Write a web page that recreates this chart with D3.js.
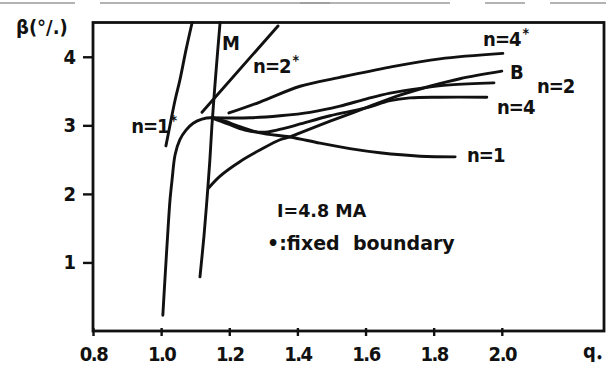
<!DOCTYPE html>
<html>
<head>
<meta charset="utf-8">
<script src="https://cdn.jsdelivr.net/npm/d3@7"></script>
<style>
  html, body { margin: 0; padding: 0; background: #fff; }
  svg { display: block; }
  text { font-family: "DejaVu Sans Condensed", "DejaVu Sans", sans-serif; font-weight: bold; fill: #111; }
</style>
</head>
<body>
<svg id="chart" width="611" height="372"></svg>
<script>
// ====================================================================
// DATA  (q*, beta %)
// ====================================================================
const qTicks = [0.8, 1.0, 1.2, 1.4, 1.6, 1.8, 2.0];
const betaTicks = [1, 2, 3, 4];

const curveN1 = [[1.005,0.23],[1.011,0.74],[1.020,1.47],[1.026,1.91],[1.032,2.20],[1.041,2.57],[1.055,2.79],[1.073,2.93],[1.094,3.03],[1.120,3.09],[1.149,3.11],[1.187,3.06],[1.231,2.98],[1.290,2.89],[1.378,2.83],[1.466,2.74],[1.554,2.66],[1.642,2.60],[1.760,2.55],[1.863,2.54]];
const curveN2 = [[1.149,3.11],[1.261,3.11],[1.349,3.14],[1.437,3.19],[1.525,3.28],[1.598,3.38],[1.672,3.47],[1.760,3.54],[1.848,3.59],[1.977,3.62]];
const curveN4 = [[1.149,3.11],[1.196,3.02],[1.246,2.93],[1.305,2.90],[1.364,2.96],[1.408,3.02],[1.496,3.14],[1.598,3.25],[1.672,3.36],[1.730,3.40],[1.818,3.41],[1.956,3.41]];
const curveB = [[1.140,2.09],[1.173,2.26],[1.231,2.47],[1.290,2.64],[1.349,2.79],[1.378,2.83],[1.408,2.89],[1.496,3.06],[1.598,3.25],[1.701,3.44],[1.789,3.57],[1.877,3.68],[2.000,3.79]];
const curveM = [[1.114,0.79],[1.126,1.40],[1.135,1.95],[1.143,2.49],[1.149,2.99],[1.161,3.78],[1.173,4.50]];
const curveN1s = [[1.014,2.70],[1.026,3.00],[1.041,3.37],[1.055,3.66],[1.073,4.10],[1.091,4.50]];
const curveN2s = [[1.120,3.19],[1.343,4.45]];
const curveN4s = [[1.199,3.18],[1.290,3.34],[1.408,3.57],[1.525,3.70],[1.672,3.85],[1.818,3.97],[2.003,4.05]];

// label text, star flag, anchor (q, beta)
const labelText = ["n=1", "M", "n=2", "n=4", "B", "n=2", "n=4", "n=1"];
const labelStar = [true, false, true, true, false, false, false, false];
const labelAt = [[0.912,2.89],[1.179,4.10],[1.270,3.76],[1.945,4.16],[2.024,3.68],[2.103,3.47],[1.986,3.17],[1.898,2.47]];

const noteText = ["I=4.8 MA", "\u2022:fixed  boundary"];
const noteAt = [[1.340,1.66],[1.311,1.18]];

document.addEventListener('DOMContentLoaded', function () {

    // ====================================================================
    // 1. CONFIGURATION
    // ====================================================================
    const CONFIG = {
        xDomain: [0.8, 2.3],
        yDomain: [0, 4.5],
        xRange: [93, 604],
        yRange: [331, 22.5],
        frameWidth: 2.8,
        curveWidth: 2.9,
        fontSize: 20
    };

    const svg = d3.select("#chart");

    const x = d3.scaleLinear().domain(CONFIG.xDomain).range(CONFIG.xRange);
    const y = d3.scaleLinear().domain(CONFIG.yDomain).range(CONFIG.yRange);

    // scan artefacts along the top edge
    [[0, 75], [100, 330], [300, 450], [485, 525], [550, 606]].forEach(s => {
        svg.append("line")
            .attr("x1", s[0]).attr("x2", s[1])
            .attr("y1", 3).attr("y2", 3)
            .attr("stroke", "#9a9a9a").attr("stroke-width", 1.4);
    });

    // ====================================================================
    // 2. FRAME & AXES
    // ====================================================================
    svg.append("rect")
        .attr("x", x(CONFIG.xDomain[0]))
        .attr("y", y(CONFIG.yDomain[1]))
        .attr("width", x(CONFIG.xDomain[1]) - x(CONFIG.xDomain[0]))
        .attr("height", y(CONFIG.yDomain[0]) - y(CONFIG.yDomain[1]))
        .attr("fill", "none")
        .attr("stroke", "#111")
        .attr("stroke-width", CONFIG.frameWidth);

    const xAxis = svg.append("g")
        .attr("transform", `translate(0, ${y(0)})`)
        .call(d3.axisBottom(x).tickValues(qTicks).tickFormat(d3.format(".1f"))
            .tickSizeInner(5).tickSizeOuter(0).tickPadding(11));

    xAxis.select(".domain").remove();
    xAxis.selectAll(".tick line")
        .attr("y1", -3).attr("y2", 5)
        .attr("stroke", "#111").attr("stroke-width", 2.4);
    xAxis.selectAll(".tick text")
        .attr("font-size", CONFIG.fontSize)
        .attr("letter-spacing", "-1.5px")
        .style("font-family", "'DejaVu Sans Condensed', 'DejaVu Sans', sans-serif")
        .style("font-weight", "bold")
        .attr("fill", "#111");

    const yAxis = svg.append("g")
        .attr("transform", `translate(${x(0.8)}, 0)`)
        .call(d3.axisLeft(y).tickValues(betaTicks).tickFormat(d3.format("d"))
            .tickSizeInner(10).tickSizeOuter(0).tickPadding(7));

    yAxis.select(".domain").remove();
    yAxis.selectAll(".tick line")
        .attr("stroke", "#111").attr("stroke-width", 2.4);
    yAxis.selectAll(".tick text")
        .attr("font-size", CONFIG.fontSize)
        .style("font-family", "'DejaVu Sans Condensed', 'DejaVu Sans', sans-serif")
        .style("font-weight", "bold")
        .attr("fill", "#111");

    // axis titles
    svg.append("text")
        .attr("x", 16).attr("y", 34)
        .attr("font-size", CONFIG.fontSize)
        .text("\u03b2(\u00b0/.)");

    const qLabel = svg.append("text")
        .attr("x", 583).attr("y", 358)
        .attr("font-size", CONFIG.fontSize);
    qLabel.append("tspan").text("q");
    qLabel.append("tspan").attr("dy", 4).attr("font-size", 12).text("\u2022");

    // ====================================================================
    // 3. CURVES
    // ====================================================================
    const line = d3.line()
        .x(d => x(d[0]))
        .y(d => y(d[1]))
        .curve(d3.curveCatmullRom.alpha(0.5));

    const curves = [curveN1, curveN2, curveN4, curveB, curveM, curveN1s, curveN2s, curveN4s];

    svg.append("g")
        .selectAll("path")
        .data(curves)
        .join("path")
        .attr("d", line)
        .attr("fill", "none")
        .attr("stroke", "#111")
        .attr("stroke-width", CONFIG.curveWidth)
        .attr("stroke-linecap", "round")
        .attr("stroke-linejoin", "round");

    // ====================================================================
    // 4. LABELS
    // ====================================================================
    labelText.forEach((t, i) => {
        const txt = svg.append("text")
            .attr("x", x(labelAt[i][0]))
            .attr("y", y(labelAt[i][1]))
            .attr("font-size", CONFIG.fontSize)
            .attr("letter-spacing", "-1px");
        txt.append("tspan").text(t);
        if (labelStar[i]) {
            txt.append("tspan")
                .attr("dy", -8)
                .attr("dx", 2)
                .attr("font-size", 14)
                .text("*");
        }
    });

    noteText.forEach((t, i) => {
        svg.append("text")
            .attr("x", x(noteAt[i][0]))
            .attr("y", y(noteAt[i][1]))
            .attr("font-size", i === 0 ? 17.5 : 19)
            .style("font-family", "'DejaVu Sans', sans-serif")
            .style("white-space", "pre")
            .text(t);
    });
});
</script>
</body>
</html>
